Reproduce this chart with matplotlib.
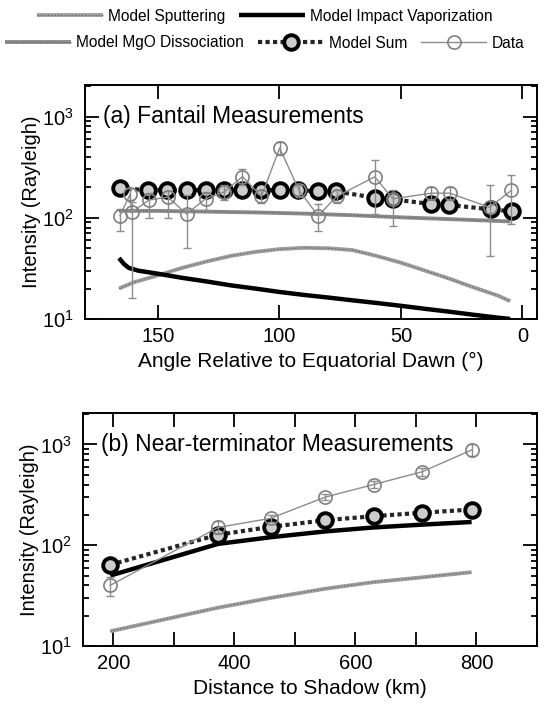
import numpy as np
import matplotlib.pyplot as plt
from matplotlib.ticker import LogLocator, NullFormatter, MultipleLocator, FuncFormatter
from matplotlib.lines import Line2D
from matplotlib.legend_handler import HandlerTuple

plt.rcParams['font.family'] = ['Liberation Sans', 'DejaVu Sans']

# ---- panel (a): fantail ----
sput_a_ang = [166, 160, 150, 140, 130, 120, 110, 100, 90, 80, 70, 60, 50, 40, 30, 20, 10, 5]
sput_a = [20, 23, 27, 32, 37, 42, 46, 49, 50.5, 50, 48, 42, 36, 30, 25, 20.5, 17, 15]

iv_a_ang = [166, 164, 162, 158, 150, 140, 130, 120, 110, 100, 90, 80, 70, 60, 50, 40, 30, 20, 10, 5]
iv_a = [40, 35, 32, 30, 28, 25.5, 23.5, 21.5, 20, 18.5, 17.3, 16.3, 15.3, 14.4, 13.5, 12.6, 11.8, 11.0, 10.3, 10.0]

mgo_a_ang = [166, 150, 130, 110, 90, 70, 50, 30, 5]
mgo_a = [117, 117, 115, 113, 110, 106, 101, 97, 92]

sum_a_ang = [165.6, 154, 146.4, 138.2, 130.4, 122.9, 115.2, 107.4, 99.9, 92.3, 84.1, 76.8, 60.8, 53.3, 37.8, 30.3, 13.0, 4.3]
sum_a = [195, 188, 188, 188, 188, 188, 188, 188, 188, 186, 184, 182, 158, 152, 137, 134, 121, 116]

data_a_ang = [165.6, 161.5, 160.8, 153.6, 145.8, 138.2, 130.4, 122.9, 115.2, 107.4, 99.9, 91.9, 84.1, 76.3, 60.8, 53.3, 37.5, 30.0, 13.5, 4.6]
data_a = [105, 170, 113, 150, 160, 109, 154, 179, 255, 163, 490, 186, 105, 163, 254, 154, 175, 175, 127, 186]
data_a_lo = [74, 150, 16, 100, 100, 50, 120, 150, 210, 140, 420, 160, 74, 140, 109, 83, 150, 150, 42, 87]
data_a_hi = [123, 195, 142, 175, 185, 166, 180, 210, 300, 190, 560, 210, 137, 190, 372, 190, 200, 200, 209, 267]

# ---- panel (b): near-terminator ----
dist_b = [195, 373, 460, 550, 630, 710, 792]
iv_b = [50, 103, 120, 137, 150, 160, 170]
sput_b = [14, 24, 30, 37, 43, 48, 54]
sum_b = [64, 127, 152, 177, 194, 210, 226]
data_b = [40, 150, 185, 300, 400, 535, 880]
data_b_lo = [31, 128, 170, 280, 370, 490, 770]
data_b_hi = [48, 172, 200, 320, 430, 580, 1000]

# grey model lines: solid grey base plus a thin dash on top (hatched look)
st_sput = dict(color='0.62', lw=2.8, solid_capstyle='butt')
st_mgo = dict(color='0.55', lw=2.8, solid_capstyle='butt')
st_hatch = dict(color='0.4', lw=0.7, ls=(0, (1.5, 2.0)))
st_iv = dict(color='black', lw=3.2, solid_capstyle='butt')
st_sum = dict(color='0.15', lw=3.0, ls=(0, (1, 0.8)), marker='o', ms=10.5,
              mfc='0.8', mec='black', mew=2.8)
st_data = dict(color='0.55', lw=1.0, marker='o', ms=9.5, mfc='none', mec='0.5', mew=1.2)

W, H = 545, 706
fig = plt.figure(figsize=(W / 100, H / 100), dpi=100)
ax1 = fig.add_axes([85 / W, 1 - 319 / H, (537 - 85) / W, (319 - 85) / H])
ax2 = fig.add_axes([83 / W, 1 - 646 / H, (537 - 83) / W, (646 - 413) / H])


def draw_grey(ax, x, y, st):
    ax.plot(x, y, zorder=2, **st)
    ax.plot(x, y, zorder=2, **st_hatch)


def draw_data(ax, x, y, lo, hi):
    y = np.array(y)
    err = [y - np.array(lo), np.array(hi) - y]
    ax.errorbar(x, y, yerr=err, fmt='none', ecolor='0.55', elinewidth=1.0,
                capsize=3, capthick=1.0, zorder=4)
    ax.plot(x, y, zorder=5, **st_data)


draw_grey(ax1, sput_a_ang, sput_a, st_sput)
ax1.plot(iv_a_ang, iv_a, zorder=2, **st_iv)
draw_grey(ax1, mgo_a_ang, mgo_a, st_mgo)
ax1.plot(sum_a_ang, sum_a, zorder=3, **st_sum)
draw_data(ax1, data_a_ang, data_a, data_a_lo, data_a_hi)

draw_grey(ax2, dist_b, sput_b, st_sput)
ax2.plot(dist_b, iv_b, zorder=2, **st_iv)
ax2.plot(dist_b, sum_b, zorder=3, **st_sum)
draw_data(ax2, dist_b, data_b, data_b_lo, data_b_hi)

ax1.set_xlim(180, -6)
ax1.xaxis.set_major_locator(MultipleLocator(50))
ax2.set_xlim(150, 900)
ax2.xaxis.set_major_locator(MultipleLocator(100))
ax2.xaxis.set_major_formatter(FuncFormatter(lambda v, p: f'{int(v)}' if v % 200 == 0 else ''))

for ax in (ax1, ax2):
    ax.set_yscale('log')
    ax.set_ylim(10, 2050)
    ax.yaxis.set_major_locator(LogLocator(base=10, numticks=5))
    ax.yaxis.set_minor_locator(LogLocator(base=10, subs=np.arange(2, 10), numticks=12))
    ax.yaxis.set_minor_formatter(NullFormatter())
    ax.tick_params(which='both', direction='in', top=True, right=True, width=1.3,
                   labelsize=14.5)
    ax.tick_params(axis='x', pad=6)
    ax.tick_params(axis='y', pad=8)
    ax.tick_params(which='major', length=10)
    ax.tick_params(which='minor', length=4)
    for s in ax.spines.values():
        s.set_linewidth(1.4)
    ax.set_ylabel('Intensity (Rayleigh)', fontsize=14.5, labelpad=1)

ax1.set_xlabel('Angle Relative to Equatorial Dawn (\u00b0)', fontsize=15, labelpad=4)
ax2.set_xlabel('Distance to Shadow (km)', fontsize=15, labelpad=4)
ax1.text(0.04, 0.865, '(a) Fantail Measurements', transform=ax1.transAxes,
         fontsize=16.5, va='center', ha='left')
ax2.text(0.04, 0.865, '(b) Near-terminator Measurements', transform=ax2.transAxes,
         fontsize=16.5, va='center', ha='left')

# legend, two rows
h_sput = (Line2D([], [], **st_sput), Line2D([], [], **st_hatch))
h_iv = Line2D([], [], **st_iv)
h_mgo = (Line2D([], [], **st_mgo), Line2D([], [], **st_hatch))
h_sum = Line2D([], [], **st_sum)
h_data = Line2D([], [], **st_data)
leg_kw = dict(frameon=False, fontsize=11.2, handlelength=4.2, handletextpad=0.35,
              columnspacing=0.9, numpoints=1, borderaxespad=0, borderpad=0,
              handler_map={tuple: HandlerTuple(ndivide=1, pad=0)})
fig.legend([h_sput, h_iv], ['Model Sputtering', 'Model Impact Vaporization'],
           ncol=2, loc='center', bbox_to_anchor=(265 / W, 1 - 16 / H), **leg_kw)
fig.legend([h_mgo, h_sum, h_data], ['Model MgO Dissociation', 'Model Sum', 'Data'],
           ncol=3, loc='center', bbox_to_anchor=(265 / W, 1 - 43 / H), **leg_kw)

fig.savefig('out.png', dpi=100)
